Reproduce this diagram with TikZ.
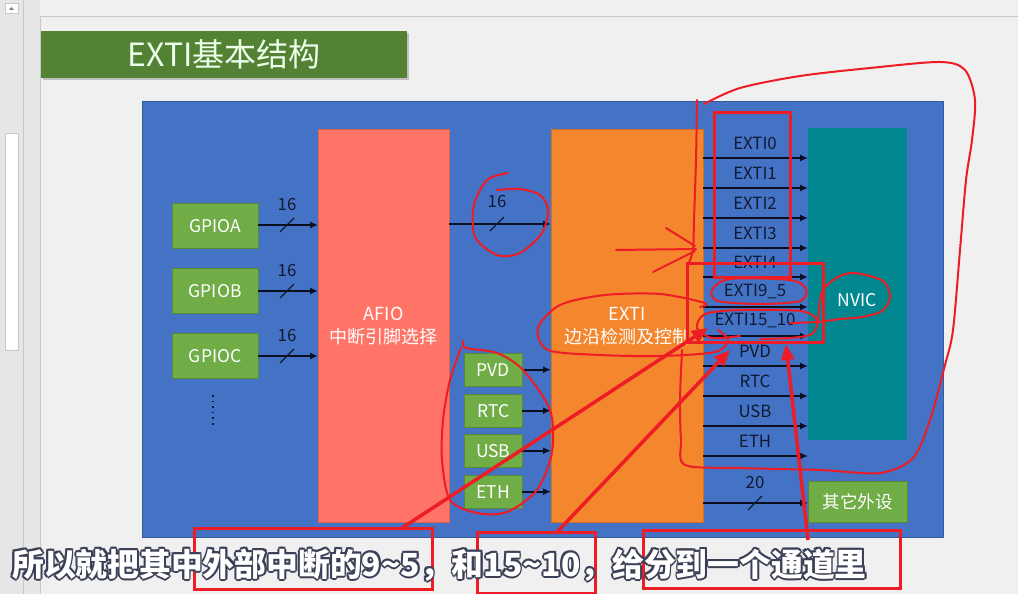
\documentclass[tikz,border=0pt]{standalone}
\usepackage{fontspec}
\setmainfont{Noto Sans CJK SC}
\usetikzlibrary{arrows.meta,calc}
\definecolor{bgc}{HTML}{F0F0F0}
\definecolor{sidec}{HTML}{E6E6E6}
\definecolor{framec}{HTML}{C8C8C8}
\definecolor{titleg}{HTML}{548235}
\definecolor{blueb}{HTML}{4472C4}
\definecolor{greenb}{HTML}{70AD47}
\definecolor{afioc}{HTML}{FF7466}
\definecolor{extic}{HTML}{F4862D}
\definecolor{nvicc}{HTML}{00878F}
\definecolor{inkc}{HTML}{111A33}
\definecolor{annred}{HTML}{EE1C25}
\definecolor{outl}{HTML}{3B4056}
\newcommand\subtxt{所以就把其中外部中断的9\textasciitilde5，和15\textasciitilde10，给分到一个通道里}
\begin{document}
\begin{tikzpicture}[x=1pt,y=-1pt,
  box/.style={inner sep=0pt, anchor=north west, text=white, align=center},
  gbox/.style={box, fill=greenb, draw=greenb!80!black, line width=0.4pt},
  wfont/.style={font=\fontsize{17.5}{22}\selectfont},
  lbl/.style={inner sep=0pt, text=inkc, font=\fontsize{16.8}{18}\selectfont},
  arr/.style={draw=inkc!60!black, line width=2.2pt, -{Latex[length=8pt,width=7pt]}},
  slash/.style={draw=inkc, line width=1.3pt},
  ann/.style={draw=annred, line width=2pt, line cap=round, line join=round},
  annbox/.style={draw=annred, line width=3pt},
  annarr/.style={draw=annred, line width=3.5pt, -{Triangle[length=16pt,width=13pt]}},
  subt/.style={inner sep=0pt, anchor=west, font=\fontsize{31.8}{36}\selectfont\bfseries}]
\useasboundingbox (0,0) rectangle (1018,594);
% window background
\fill[bgc] (0,0) rectangle (1018,594);
\fill[sidec] (0,0) rectangle (23,594);
\fill[sidec!97!white] (23,0) rectangle (40,594);
\draw[framec, line width=0.6pt] (23,0) -- (23,594);
\draw[framec, line width=0.6pt] (40.5,16) -- (40.5,594);
\draw[framec, line width=0.6pt] (40.5,16) -- (1018,16);
\fill[white, draw=framec, line width=0.5pt] (5,133) rectangle (18,350);
\fill[white, draw=framec, line width=0.5pt] (5,3) rectangle (18,13);
\fill[gray] (9,10) -- (14,10) -- (11.5,7) -- cycle;
% title
\fill[black!25] (43,33) rectangle (409,80);
\node[box, fill=titleg, minimum width=366pt, minimum height=47pt,
      font=\fontsize{32}{34}\selectfont, text=white!92!green] (title) at (41,31) {EXTI基本结构};
% main blue panel
\node[box, fill=blueb, draw=blueb!80!black, line width=0.5pt, minimum width=801pt, minimum height=436pt] (panel) at (142,101) {};
% GPIO boxes
\node[gbox, wfont, minimum width=86pt, minimum height=45pt] (gpioa) at (172,203) {GPIOA};
\node[gbox, wfont, minimum width=86pt, minimum height=45pt] (gpiob) at (172,268) {GPIOB};
\node[gbox, wfont, minimum width=86pt, minimum height=45pt] (gpioc) at (172,333) {GPIOC};
\coordinate (dtop) at (213,395);
\coordinate (dbot) at (213,426);
\draw[inkc, line width=2pt, dash pattern=on 1.6pt off 4pt] (dtop) -- (dbot);
% AFIO and EXTI
\node[box, fill=afioc, draw=afioc!85!black, line width=0.4pt, minimum width=131pt, minimum height=393pt,
      font=\fontsize{18}{23}\selectfont] (afio) at (318,129) {AFIO\\中断引脚选择};
\node[box, fill=extic, draw=extic!85!black, line width=0.4pt, minimum width=152pt, minimum height=393pt,
      font=\fontsize{18}{23}\selectfont] (exti) at (551,129) {EXTI\\边沿检测及控制};
% NVIC and others
\node[box, fill=nvicc, minimum width=99pt, minimum height=312pt] (nvic) at (808,128) {};
\node[inner sep=0pt, text=white, font=\fontsize{17.5}{20}\selectfont] (nvict) at (857,300) {NVIC};
\node[gbox, wfont, minimum width=99pt, minimum height=41pt] (other) at (808,481) {其它外设};
% small peripheral boxes
\node[gbox, wfont, minimum width=58pt, minimum height=33pt] (pvd) at (464,353) {PVD};
\node[gbox, wfont, minimum width=58pt, minimum height=33pt] (rtc) at (464,394) {RTC};
\node[gbox, wfont, minimum width=58pt, minimum height=33pt] (usb) at (464,434) {USB};
\node[gbox, wfont, minimum width=58pt, minimum height=33pt] (eth) at (464,475) {ETH};
% GPIO -> AFIO
\foreach \g/\y in {gpioa/225, gpiob/291, gpioc/356}{
  \draw[arr] (\g.east |- 0,\y) -- (afio.west |- 0,\y);
  \draw[slash] (280,\y+7) -- (294,\y-7);
  \node[lbl] at (287,\y-20) {16};
}
% AFIO -> EXTI
\draw[arr] (afio.east |- 0,224) -- (exti.west |- 0,224);
\draw[slash] (490,231) -- (504,217);
\node[lbl] (n16) at (497,202) {16};
% peripherals -> EXTI
\foreach \p in {pvd,rtc,usb,eth}{
  \draw[arr] (\p.east) -- (exti.west |- \p.east);
}
% EXTI -> NVIC
\foreach \t/\y in {EXTI0/158, EXTI1/188, EXTI2/218, EXTI3/248, EXTI4/277, EXTI9\_5/307, EXTI15\_10/336, PVD/366, RTC/396, USB/426, ETH/456}{
  \draw[arr] (exti.east |- 0,\y) -- (nvic.west |- 0,\y);
  \node[lbl] at (755,\y-15) {\t};
}
\draw[arr] (exti.east |- 0,503) -- (other.west |- 0,503);
\draw[slash] (748,510) -- (762,496);
\node[lbl] (n20) at (755,483) {20};
% ---------- red annotations ----------
\draw[ann] plot[smooth] coordinates {(508,173) (487,180) (474,205) (475,237) (497,255) (520,253) (542,233) (548,210) (540,195) (520,189) (497,190)};
\draw[ann] plot[smooth] coordinates {(704,104) (740,88) (800,76) (870,68) (940,62) (965,70) (975,100) (972,140) (966,180) (960,250) (953,330) (945,365) (930,420) (913,458) (880,473) (820,470) (740,468) (685,465) (681,440) (680,400) (682,350)};
\draw[ann] plot[smooth] coordinates {(697,100) (696,160) (694,220) (693,250) (688,265)};
\draw[ann] (616,250) -- (696,249);
\draw[ann] (666,228) -- (695,246);
\draw[ann] (653,272) -- (695,251);
\draw[annbox] (714,112) rectangle (790,277);
\draw[annbox] (687,263) rectangle (823,342);
\draw[ann] plot[smooth cycle] coordinates {(712,290) (730,279) (790,280) (806,289) (800,301) (760,304) (718,301)};
\draw[ann] plot[smooth] coordinates {(740,336) (712,338) (697,328) (705,314) (740,310) (800,311) (817,320) (812,334) (790,338) (760,339)};
\draw[ann] plot[smooth] coordinates {(818,322) (822,292) (838,277) (855,273) (883,281) (890,297) (882,311) (862,317) (840,319) (818,322) (790,323)};
\draw[ann] plot[smooth] coordinates {(700,307) (705,303) (660,294) (605,295) (560,305) (538,328) (548,350) (600,355) (660,356) (715,352) (728,340) (718,330)};
\draw[ann] plot[smooth] coordinates {(463,341) (466,348) (497,353) (523,370) (550,410) (552,452) (537,490) (507,512) (477,513) (450,500) (442,460) (443,420) (450,380) (461,348)};
% subtitle boxes
\draw[annbox] (194,528) rectangle (432,589);
\draw[annbox] (477,532) rectangle (595,593);
\draw[annbox] (643,530) rectangle (900,588);
% subtitle
\foreach \dx/\dy in {-1.8/0, 1.8/0, 0/-1.8, 0/1.8, -1.3/-1.3, 1.3/-1.3, -1.3/1.3, 1.3/1.3}{
  \node[subt, text=outl] at (12+\dx,565+\dy) {\subtxt};
}
\node[subt, text=white] (sub) at (12,565) {\subtxt};
% red arrows
\coordinate (a1s) at (402,528);
\coordinate (a1e) at (708,328);
\coordinate (a2s) at (557,532);
\coordinate (a2e) at (730,350);
\coordinate (a3s) at (808,540);
\coordinate (a3e) at (786,344);
\draw[annarr] (a1s) -- (a1e);
\draw[annarr] (a2s) -- (a2e);
\draw[annarr] (a3s) -- (a3e);
\end{tikzpicture}
\end{document}
